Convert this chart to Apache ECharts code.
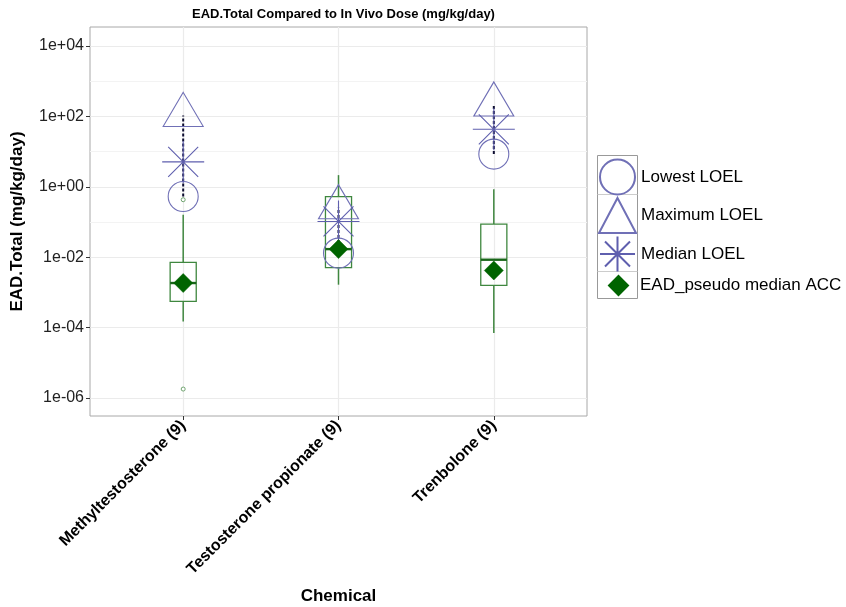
<!DOCTYPE html>
<html>
<head>
<meta charset="utf-8">
<script src="https://cdn.jsdelivr.net/npm/echarts@6/dist/echarts.min.js"></script>
<style>html,body{margin:0;padding:0;background:#fff;}#c{width:846px;height:607px;}</style>
</head>
<body>
<div id="c"></div>
<script>
// ---- data ----
const categories = ['Methyltestosterone (9)', 'Testosterone propionate (9)', 'Trenbolone (9)'];
const catPos = [1, 2, 3];
const lowestLOEL = [0.53, 0.0131, 8.5];
const maximumLOEL = [107, 0.255, 212];
const medianLOEL = [5.1, 0.104, 43];
const eadPseudoMedianACC = [0.00185, 0.017, 0.0042];
const whiskerLow = [0.00015, 0.00166, 0.000071];
const boxQ1 = [0.00056, 0.0051, 0.00158];
const boxMedian = [0.00185, 0.017, 0.0085];
const boxQ3 = [0.0071, 0.53, 0.0875];
const whiskerHigh = [0.16, 2.15, 0.86];
const outlierCat = [1, 1];
const outlierVal = [0.43, 0.0000018];
const majorTicks = [1e-6, 1e-4, 1e-2, 1, 1e2, 1e4];
const minorTicks = [1e-5, 1e-3, 1e-1, 10, 1e3];

// ---- build ----
const loelColor = '#7070b6';
const boxColor = '#3f873f';
const pts = (arr) => arr.map((v, i) => [catPos[i], v]);
const boxData = catPos.map((c, i) => [c, whiskerLow[i], boxQ1[i], boxMedian[i], boxQ3[i], whiskerHigh[i]]);
const fmt = (v) => {
  const e = Math.round(Math.log10(v));
  return '1e' + (e < 0 ? '-' : '+') + String(Math.abs(e)).padStart(2, '0');
};
const asteriskPath = 'path://M0,21L42,21M21,0L21,42M6,6L36,36M6,36L36,6';

const chart = echarts.init(document.getElementById('c'), null, {renderer: 'canvas'});
const font = 'Liberation Sans, Arial, sans-serif';
const option = {
  animation: false,
  textStyle: {fontFamily: font},
  title: {
    text: 'EAD.Total Compared to In Vivo Dose (mg/kg/day)',
    left: 338.5, top: 3, textAlign: 'center',
    textStyle: {fontSize: 13, fontWeight: 'bold', color: '#000', fontFamily: font}
  },
  grid: {left: 90, right: 259, top: 27, bottom: 191, show: true, borderColor: '#a8a8a8', borderWidth: 1,
         backgroundColor: '#fff', outerBoundsMode: 'none', containLabel: false},
  legend: [{
    orient: 'vertical', left: 593, top: 153.5, itemWidth: 37, itemHeight: 35, itemGap: 1.5,
    data: ['Lowest LOEL', 'Maximum LOEL', 'Median LOEL'],
    textStyle: {fontSize: 17, color: '#000', fontFamily: font},
    selectedMode: false
  }, {
    orient: 'vertical', left: 603, top: 270, itemWidth: 19, itemHeight: 19, itemGap: 1,
    data: ['EAD_pseudo median ACC'],
    textStyle: {fontSize: 17, color: '#000', fontFamily: font, padding: [0, 0, 0, 7]},
    selectedMode: false
  }],
  graphic: [
    {type: 'rect', shape: {x: 597.5, y: 155.5, width: 40, height: 143}, style: {fill: 'none', stroke: '#999', lineWidth: 1}, z: -1},
    {type: 'line', shape: {x1: 597.5, y1: 194.5, x2: 637.5, y2: 194.5}, style: {stroke: '#ccc', lineWidth: 1}, z: -1},
    {type: 'line', shape: {x1: 597.5, y1: 233.5, x2: 637.5, y2: 233.5}, style: {stroke: '#ccc', lineWidth: 1}, z: -1},
    {type: 'line', shape: {x1: 597.5, y1: 271.5, x2: 637.5, y2: 271.5}, style: {stroke: '#ccc', lineWidth: 1}, z: -1}
  ],
  xAxis: {
    type: 'value', min: 0.4, max: 3.6,
    name: 'Chemical', nameLocation: 'middle', nameGap: 172,
    nameTextStyle: {fontSize: 17, fontWeight: 'bold', color: '#000', fontFamily: font},
    axisLine: {show: false},
    axisTick: {show: true, length: 4, customValues: catPos, lineStyle: {color: '#333'}},
    axisLabel: {
      customValues: catPos, rotate: 45, margin: 7,
      fontSize: 16, fontWeight: 'bold', color: '#000', fontFamily: font,
      formatter: (v) => categories[Math.round(v) - 1] || ''
    },
    splitLine: {show: false}
  },
  yAxis: {
    type: 'log', logBase: 10, min: Math.pow(10, -6.51), max: Math.pow(10, 4.54),
    name: 'EAD.Total (mg/kg/day)', nameLocation: 'middle', nameGap: 64,
    nameTextStyle: {fontSize: 17, fontWeight: 'bold', color: '#000', fontFamily: font},
    axisLine: {show: false},
    axisTick: {show: true, length: 4, customValues: majorTicks, lineStyle: {color: '#333'}},
    axisLabel: {customValues: majorTicks, fontSize: 16, color: '#222', margin: 6, fontFamily: font, formatter: fmt},
    splitLine: {show: true, lineStyle: {color: '#ebebeb', width: 1}}
  },
  series: [
    {
      name: 'gridlines', type: 'line', data: [], silent: true, z: 0,
      markLine: {
        silent: true, symbol: 'none', label: {show: false}, z: 0,
        lineStyle: {color: '#f3f3f3', width: 1, type: 'solid'},
        data: minorTicks.map(v => ({yAxis: v})).concat(
          catPos.map(c => ({xAxis: c, lineStyle: {color: '#ebebeb', width: 1.2, type: 'solid'}})))
      }
    },
    {
      name: 'box', type: 'custom', z: 2,
      data: boxData,
      encode: {x: 0, y: [1, 2, 3, 4, 5]},
      renderItem: (params, api) => {
        const x = api.value(0);
        const lo = api.coord([x, api.value(1)]);
        const q1 = api.coord([x, api.value(2)]);
        const md = api.coord([x, api.value(3)]);
        const q3 = api.coord([x, api.value(4)]);
        const hi = api.coord([x, api.value(5)]);
        const hw = api.size([0.168, 1])[0] / 2;
        const st = {stroke: boxColor, lineWidth: 1.5, fill: 'none'};
        return {
          type: 'group',
          children: [
            {type: 'line', shape: {x1: lo[0], y1: lo[1], x2: q1[0], y2: q1[1]}, style: st},
            {type: 'line', shape: {x1: q3[0], y1: q3[1], x2: hi[0], y2: hi[1]}, style: st},
            {type: 'rect', shape: {x: q3[0] - hw, y: q3[1], width: hw * 2, height: q1[1] - q3[1]}, style: {stroke: boxColor, lineWidth: 1.3, fill: 'rgba(255,255,255,0)'}},
            {type: 'line', shape: {x1: md[0] - hw, y1: md[1], x2: md[0] + hw, y2: md[1]}, style: {stroke: '#1a661a', lineWidth: 2.4}}
          ]
        };
      }
    },
    {
      name: 'outliers', type: 'scatter', z: 3,
      data: outlierCat.map((c, i) => [c, outlierVal[i]]),
      symbol: 'circle', symbolSize: 4,
      itemStyle: {color: '#fff', borderColor: '#4f8f4f', borderWidth: 0.8, opacity: 1}
    },
    {
      name: 'range', type: 'custom', z: 3,
      data: catPos.map((c, i) => [c, lowestLOEL[i], maximumLOEL[i]]),
      encode: {x: 0, y: [1, 2]},
      renderItem: (params, api) => {
        const a = api.coord([api.value(0), api.value(1)]);
        const b = api.coord([api.value(0), api.value(2)]);
        return {type: 'line', shape: {x1: a[0], y1: a[1], x2: b[0], y2: b[1]}, style: {stroke: '#0d0d30', lineWidth: 2, lineDash: [3, 2]}};
      }
    },
    {
      name: 'Lowest LOEL', type: 'scatter', z: 4,
      data: pts(lowestLOEL), symbol: 'circle', symbolSize: 30,
      itemStyle: {color: 'rgba(0,0,0,0)', borderColor: loelColor, borderWidth: 1.1, opacity: 1}
    },
    {
      name: 'Maximum LOEL', type: 'scatter', z: 4,
      data: pts(maximumLOEL), symbol: 'triangle', symbolSize: [40, 34], symbolOffset: [0, -6],
      itemStyle: {color: 'rgba(0,0,0,0)', borderColor: loelColor, borderWidth: 1.1, opacity: 1}
    },
    {
      name: 'Median LOEL', type: 'scatter', z: 4,
      data: pts(medianLOEL), symbol: asteriskPath, symbolSize: 42,
      itemStyle: {color: 'rgba(0,0,0,0)', borderColor: '#5f5fae', borderWidth: 1.1, opacity: 1}
    },
    {
      name: 'EAD_pseudo median ACC', type: 'scatter', z: 5,
      data: pts(eadPseudoMedianACC), symbol: 'diamond', symbolSize: 19,
      itemStyle: {color: '#006400', borderColor: '#006400', borderWidth: 0.5, opacity: 1}
    }
  ]
};
chart.setOption(option);
</script>
</body>
</html>
